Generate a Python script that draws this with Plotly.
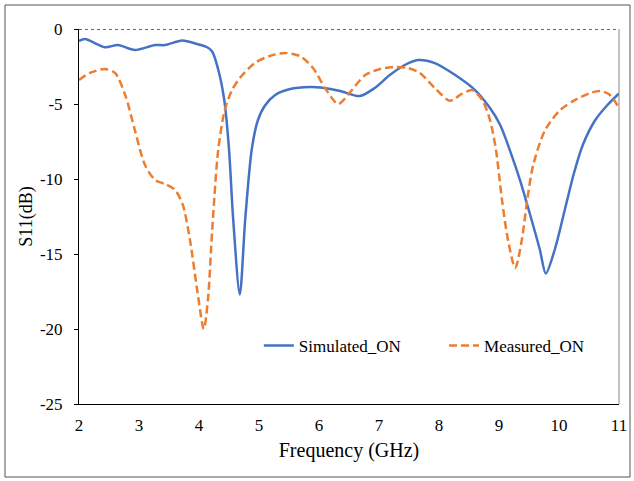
import plotly.graph_objects as go

sim_f = [2.0, 2.1, 2.43, 2.65, 2.93, 3.27, 3.43, 3.72, 3.97, 4.13, 4.22, 4.32, 4.42, 4.5, 4.57, 4.68,
         4.77, 4.88, 4.98, 5.1, 5.27, 5.52, 5.85, 6.02, 6.35, 6.68, 6.93, 7.18, 7.43, 7.65, 7.93,
         8.27, 8.6, 8.85, 9.02, 9.18, 9.35, 9.52, 9.68, 9.78, 9.93, 10.1, 10.25, 10.4, 10.6, 10.8, 11.0]
sim_db = [-0.8, -0.67, -1.22, -1.07, -1.4, -1.07, -1.07, -0.77, -1.0, -1.2, -1.5, -2.7, -4.7, -8.0, -12.7, -17.7,
          -12.7, -8.0, -6.1, -5.1, -4.4, -4.0, -3.87, -3.9, -4.13, -4.47, -3.93, -3.07, -2.4, -2.07, -2.27,
          -3.07, -4.07, -5.27, -6.4, -8.07, -10.07, -12.4, -14.7, -16.3, -14.7, -12.0, -9.6, -7.7, -6.1, -5.1, -4.3]

meas_f = [2.0, 2.18, 2.43, 2.6, 2.77, 2.93, 3.1, 3.27, 3.43, 3.6, 3.73, 3.85, 3.97, 4.08, 4.15, 4.22,
          4.32, 4.43, 4.55, 4.68, 4.93, 5.18, 5.43, 5.68, 5.9, 6.1, 6.32, 6.52, 6.77, 7.02, 7.27,
          7.48, 7.68, 7.93, 8.18, 8.38, 8.55, 8.72, 8.85, 8.95, 9.05, 9.15, 9.27, 9.38, 9.47, 9.57,
          9.77, 10.02, 10.27, 10.52, 10.68, 10.85, 11.0]
meas_db = [-3.4, -2.93, -2.67, -2.93, -4.4, -6.73, -9.07, -10.07, -10.33, -10.73, -11.73, -14.07, -17.4, -20.0, -18.0, -13.4,
           -8.07, -5.4, -4.07, -3.27, -2.27, -1.8, -1.6, -1.8, -2.6, -3.93, -5.0, -4.2, -3.07, -2.67, -2.53,
           -2.6, -2.93, -3.93, -4.78, -4.33, -4.07, -4.73, -6.07, -8.07, -11.4, -14.07, -15.93, -14.07, -11.4, -9.07,
           -6.73, -5.4, -4.73, -4.27, -4.13, -4.4, -5.27]

x_ticks = [2, 3, 4, 5, 6, 7, 8, 9, 10, 11]
y_ticks = [0, -5, -10, -15, -20, -25]

FONT = "Liberation Serif"

fig = go.Figure()
fig.add_trace(go.Scatter(x=sim_f, y=sim_db, mode="lines", name="Simulated_ON", legend="legend",
                         line=dict(color="#4472C4", width=2.5, shape="spline", smoothing=0.8)))
fig.add_trace(go.Scatter(x=meas_f, y=meas_db, mode="lines", name="Measured_ON", legend="legend2",
                         line=dict(color="#ED7D31", width=2.5, dash="8px,4px", shape="spline", smoothing=0.8)))

leg_common = dict(orientation="h", y=0.155, xanchor="left", yanchor="middle",
                  bgcolor="rgba(0,0,0,0)", font=dict(family=FONT, size=17))

fig.update_layout(
    width=634, height=481,
    margin=dict(l=79, r=15, t=29, b=77, autoexpand=False),
    paper_bgcolor="white", plot_bgcolor="white",
    font=dict(family=FONT, size=17, color="black"),
    showlegend=True,
    legend=dict(x=0.333, **leg_common),
    legend2=dict(x=0.676, **leg_common),
)
fig.update_xaxes(range=[2, 11], tickvals=x_ticks, ticktext=[str(v) for v in x_ticks],
                 showgrid=False, zeroline=False, showline=True, linecolor="black", linewidth=1,
                 ticks="", ticklen=0, ticklabelstandoff=6,
                 tickfont=dict(family=FONT, size=17),
                 title=dict(text="Frequency (GHz)", font=dict(family=FONT, size=20), standoff=8))
fig.update_yaxes(range=[-25, 0], tickvals=y_ticks, ticktext=[str(v) for v in y_ticks],
                 showgrid=False, zeroline=False, showline=True, linecolor="black", linewidth=1,
                 ticks="outside", ticklen=4, tickcolor="black", ticklabelstandoff=8,
                 tickfont=dict(family=FONT, size=17),
                 title=dict(text="S11(dB)", font=dict(family=FONT, size=18), standoff=2))

# right border (grey) and top dotted line at 0 dB
fig.add_shape(type="line", xref="paper", yref="paper", x0=1, x1=1, y0=0, y1=1,
              line=dict(color="#888888", width=1))
fig.add_shape(type="line", xref="paper", yref="y", x0=0, x1=1, y0=0, y1=0,
              line=dict(color="#333333", width=1.5, dash="dot"))
# outer chart border
fig.add_shape(type="rect", xref="paper", yref="paper",
              x0=(5 - 79) / 540, x1=(630 - 79) / 540, y0=(404 - 477) / 375, y1=(404 - 5) / 375,
              line=dict(color="#555555", width=1))

fig.write_html("out.html")
